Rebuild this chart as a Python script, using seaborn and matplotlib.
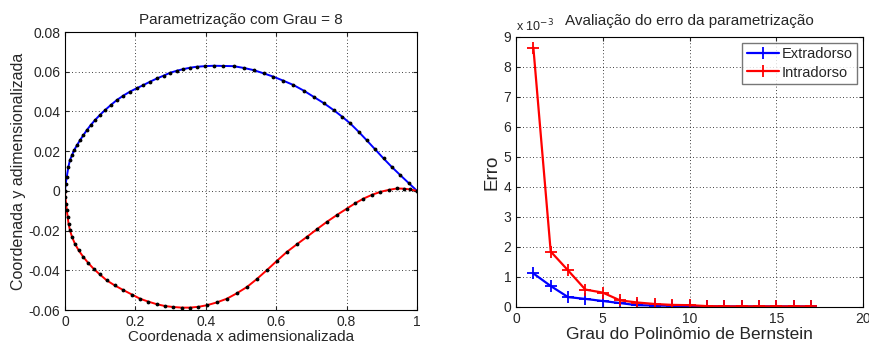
import numpy as np
import pandas as pd
import matplotlib
matplotlib.use("Agg")
import matplotlib.pyplot as plt
import seaborn as sns
from matplotlib.ticker import FuncFormatter, MultipleLocator

# ==========================================
# Data

# upper surface (extradorso)
x_upper = [0.0, 0.002, 0.005, 0.0095, 0.014, 0.02, 0.026, 0.034, 0.043, 0.052, 0.062,
           0.073, 0.085, 0.099, 0.114, 0.13, 0.147, 0.166, 0.185, 0.204, 0.223, 0.242,
           0.261, 0.28, 0.299, 0.318, 0.336, 0.355, 0.374, 0.398, 0.422, 0.45, 0.479,
           0.508, 0.536, 0.564, 0.592, 0.62, 0.649, 0.678, 0.706, 0.735, 0.763, 0.787,
           0.81, 0.834, 0.857, 0.881, 0.905, 0.928, 0.952, 0.976, 1.0]
y_upper = [0.0, 0.0037, 0.007, 0.012, 0.0155, 0.018, 0.0205, 0.023, 0.0256, 0.028, 0.0306,
           0.0331, 0.0356, 0.0382, 0.0407, 0.0432, 0.0457, 0.048, 0.050, 0.0517, 0.0533,
           0.055, 0.0566, 0.058, 0.0595, 0.0605, 0.0613, 0.062, 0.0625, 0.0628, 0.063,
           0.0629, 0.0628, 0.0619, 0.0608, 0.0592, 0.0575, 0.0555, 0.0533, 0.0505, 0.0474,
           0.0442, 0.0407, 0.0374, 0.034, 0.0298, 0.0255, 0.0209, 0.0163, 0.0121, 0.008,
           0.004, 0.0]

# lower surface (intradorso)
x_lower = [0.0, 0.001, 0.003, 0.005, 0.0076, 0.01, 0.014, 0.02, 0.028, 0.039, 0.052,
           0.066, 0.081, 0.099, 0.118, 0.141, 0.166, 0.19, 0.213, 0.237, 0.261, 0.284,
           0.308, 0.332, 0.355, 0.379, 0.403, 0.431, 0.46, 0.488, 0.517, 0.545, 0.573,
           0.601, 0.63, 0.658, 0.687, 0.715, 0.744, 0.772, 0.801, 0.824, 0.848, 0.872,
           0.896, 0.92, 0.943, 0.962, 0.981, 1.0]
y_lower = [0.0, -0.0032, -0.0064, -0.0098, -0.0131, -0.0165, -0.0198, -0.0232, -0.0266,
           -0.03, -0.0333, -0.0363, -0.0392, -0.0421, -0.045, -0.0476, -0.05, -0.0522,
           -0.0543, -0.0558, -0.0571, -0.058, -0.0585, -0.0588, -0.0588, -0.0584, -0.0576,
           -0.0562, -0.0543, -0.0516, -0.0484, -0.0444, -0.04, -0.0354, -0.0308, -0.027,
           -0.0232, -0.0194, -0.0156, -0.0122, -0.0089, -0.0063, -0.0039, -0.002, -0.0005,
           0.0005, 0.0012, 0.0011, 0.0007, 0.0]

# error vs polynomial degree
grau = list(range(1, 18))
erro_extra = [1.12e-3, 0.70e-3, 0.33e-3, 0.27e-3, 0.20e-3, 0.13e-3, 0.06e-3, 0.05e-3,
              0.04e-3, 0.03e-3, 0.02e-3, 0.02e-3, 0.02e-3, 0.02e-3, 0.02e-3, 0.02e-3, 0.02e-3]
erro_intra = [8.65e-3, 1.85e-3, 1.22e-3, 0.58e-3, 0.48e-3, 0.22e-3, 0.15e-3, 0.10e-3,
              0.07e-3, 0.06e-3, 0.03e-3, 0.02e-3, 0.02e-3, 0.02e-3, 0.02e-3, 0.02e-3, 0.02e-3]

# ==========================================
sns.set_style("ticks")
plt.rcParams["font.family"] = ["Liberation Sans", "DejaVu Sans"]
plt.rcParams["xtick.direction"] = "in"
plt.rcParams["ytick.direction"] = "in"

fig = plt.figure(figsize=(8.69, 3.45), dpi=100)
ax1 = fig.add_axes([65 / 869, 1 - 310 / 345, 352 / 869, 278 / 345])
ax2 = fig.add_axes([516 / 869, 1 - 307 / 345, 347 / 869, 270 / 345])

grid_kw = dict(color="black", linestyle=(0, (1, 3)), linewidth=0.6)

# ---- left: airfoil
up = pd.DataFrame({"x": x_upper, "y": y_upper})
lo = pd.DataFrame({"x": x_lower, "y": y_lower})
sns.lineplot(data=up, x="x", y="y", sort=False, estimator=None, color="blue", lw=1.4, ax=ax1)
sns.lineplot(data=lo, x="x", y="y", sort=False, estimator=None, color="red", lw=1.4, ax=ax1)
ax1.plot(x_upper, y_upper, "k.", ms=3.5)
ax1.plot(x_lower, y_lower, "k.", ms=3.5)
ax1.set_xlim(0, 1)
ax1.set_ylim(-0.06, 0.08)
ax1.xaxis.set_major_locator(MultipleLocator(0.2))
ax1.yaxis.set_major_locator(MultipleLocator(0.02))
ax1.xaxis.set_major_formatter(FuncFormatter(lambda v, p: f"{v:g}"))
ax1.yaxis.set_major_formatter(FuncFormatter(lambda v, p: f"{v:.2f}" if abs(v) > 1e-9 else "0"))
ax1.grid(True, **grid_kw)
ax1.set_title("Parametrização com Grau = 8", fontsize=11, pad=6)
ax1.set_xlabel("Coordenada x adimensionalizada", fontsize=11, labelpad=1)
ax1.set_ylabel("Coordenada y adimensionalizada", fontsize=11.5, labelpad=2)
ax1.tick_params(labelsize=10, length=3, top=True, right=True)

# ---- right: error
sns.lineplot(x=grau, y=erro_extra, color="blue", label="Extradorso", marker="+",
             markersize=9, mec="blue", mew=1.3, lw=1.6, ax=ax2)
sns.lineplot(x=grau, y=erro_intra, color="red", label="Intradorso", marker="+",
             markersize=9, mec="red", mew=1.3, lw=1.6, ax=ax2)
ax2.set_xlim(0, 20)
ax2.set_ylim(0, 9e-3)
ax2.xaxis.set_major_locator(MultipleLocator(5))
ax2.yaxis.set_major_locator(MultipleLocator(1e-3))
ax2.yaxis.set_major_formatter(FuncFormatter(lambda v, p: f"{v / 1e-3:.0f}"))
ax2.grid(True, **grid_kw)
ax2.text(0.0, 1.01, r"x 10$^{-3}$", transform=ax2.transAxes, fontsize=9, va="bottom")
ax2.set_title("Avaliação do erro da parametrização", fontsize=11, pad=9)
ax2.set_xlabel("Grau do Polinômio de Bernstein", fontsize=12.5, labelpad=1)
ax2.set_ylabel("Erro", fontsize=13.5, labelpad=2)
ax2.tick_params(labelsize=10, length=3, top=True, right=True)
leg = ax2.legend(loc="upper right", fontsize=10.5, frameon=True, fancybox=False,
                 borderaxespad=0.4, handlelength=2.2, borderpad=0.3, labelspacing=0.3,
                 handletextpad=0.2)
leg.get_frame().set_edgecolor("#555555")
leg.get_frame().set_linewidth(1.0)

for ax in (ax1, ax2):
    for s in ax.spines.values():
        s.set_visible(True)
        s.set_color("black")
        s.set_linewidth(0.8)

fig.savefig("out.png", dpi=100)
